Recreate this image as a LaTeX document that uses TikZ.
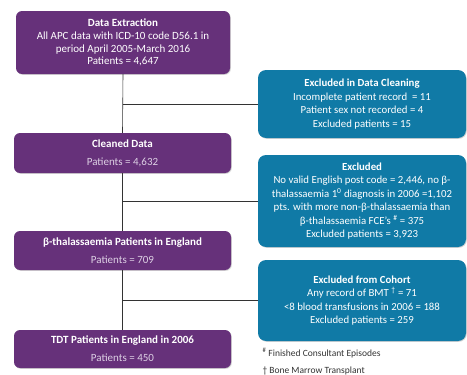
\documentclass[tikz,border=0pt]{standalone}
\usepackage{fontspec}
\setmainfont{Carlito}
\usepackage{tikz}
\usetikzlibrary{shadows}
\definecolor{my_purple}{HTML}{66317A}
\definecolor{my_lavender}{HTML}{DDD0E4}
\definecolor{my_blue}{HTML}{107AA6}
\definecolor{my_darkgray}{HTML}{333333}

\begin{document}
\begin{tikzpicture}[
    x=1pt, y=-1pt,
    stagebox/.style={fill=my_purple, rounded corners=6pt, text=white, align=center,
        minimum width=217pt, inner sep=0pt,
        font=\fontsize{11}{12.8}\selectfont,
        drop shadow={opacity=0.35, shadow xshift=0.8pt, shadow yshift=-0.8pt}},
    exclbox/.style={fill=my_blue, rounded corners=8pt, text=white, align=center,
        minimum width=208pt, inner sep=0pt,
        font=\fontsize{10.8}{13.5}\selectfont,
        drop shadow={opacity=0.35, shadow xshift=0.8pt, shadow yshift=-0.8pt}},
    flowline/.style={draw=my_darkgray, line width=0.6pt},
    notetext/.style={font=\fontsize{9.5}{11}\selectfont, text=my_darkgray, anchor=west}
]
\useasboundingbox (0,0) rectangle (467,375);

% ================================================================
% LEFT COLUMN: cohort stages
% ================================================================
\node[stagebox, minimum width=214pt, minimum height=63pt] (extract) at (123,42.5)
    {\textbf{Data Extraction}\\
     All APC data with ICD-10 code D56.1 in\\
     period April 2005-March 2016\\
     Patients = 4,647};

\node[stagebox, minimum height=40pt] (clean) at (122.5,153)
    {\textbf{Cleaned Data}\\[5pt]
     \textcolor{my_lavender}{Patients = 4,632}};

\node[stagebox, minimum height=39pt] (beta) at (122.5,250.5)
    {\textbf{β-thalassaemia Patients in England}\\[5pt]
     \textcolor{my_lavender}{Patients = 709}};

\node[stagebox, minimum height=38pt] (tdt) at (122.5,349)
    {\textbf{TDT Patients in England in 2006}\\[5pt]
     \textcolor{my_lavender}{Patients = 450}};

% ================================================================
% RIGHT COLUMN: exclusions
% ================================================================
\node[exclbox, minimum height=68pt] (excl1) at (362,104)
    {\textbf{Excluded in Data Cleaning}\\
     Incomplete patient record~ = 11\\
     Patient sex not recorded = 4\\
     Excluded patients = 15};

\node[exclbox, minimum height=92pt] (excl2) at (362,201)
    {\textbf{Excluded}\\
     No valid English post code = 2,446, no β-\\
     thalassaemia 1\textsuperscript{0} diagnosis in 2006 =1,102\\
     pts. with more non-β-thalassaemia than\\
     β-thalassaemia FCE's \textsuperscript{\#} = 375\\
     Excluded patients = 3,923};

\node[exclbox, minimum height=81pt] (excl3) at (362,300.5)
    {\textbf{Excluded from Cohort}\\
     Any record of BMT \textsuperscript{†} = 71\\
     <8 blood transfusions in 2006 = 188\\
     Excluded patients = 259};

% ================================================================
% CONNECTORS
% ================================================================
\coordinate (j1) at (extract.south |- excl1.west);
\coordinate (j2) at (extract.south |- excl2.west);
\coordinate (j3) at (extract.south |- excl3.west);

\draw[flowline] (extract.south) -- (clean.north);
\draw[flowline] (clean.south) -- (beta.north);
\draw[flowline] (beta.south) -- (tdt.north);
\draw[flowline] (j1) -- (excl1.west);
\draw[flowline] (j2) -- (excl2.west);
\draw[flowline] (j3) -- (excl3.west);

% Footnotes
\node[notetext] (fn1) at (259,353) {\textsuperscript{\#} Finished Consultant Episodes};
\node[notetext] (fn2) at (259,371) {† Bone Marrow Transplant};

\end{tikzpicture}
\end{document}
